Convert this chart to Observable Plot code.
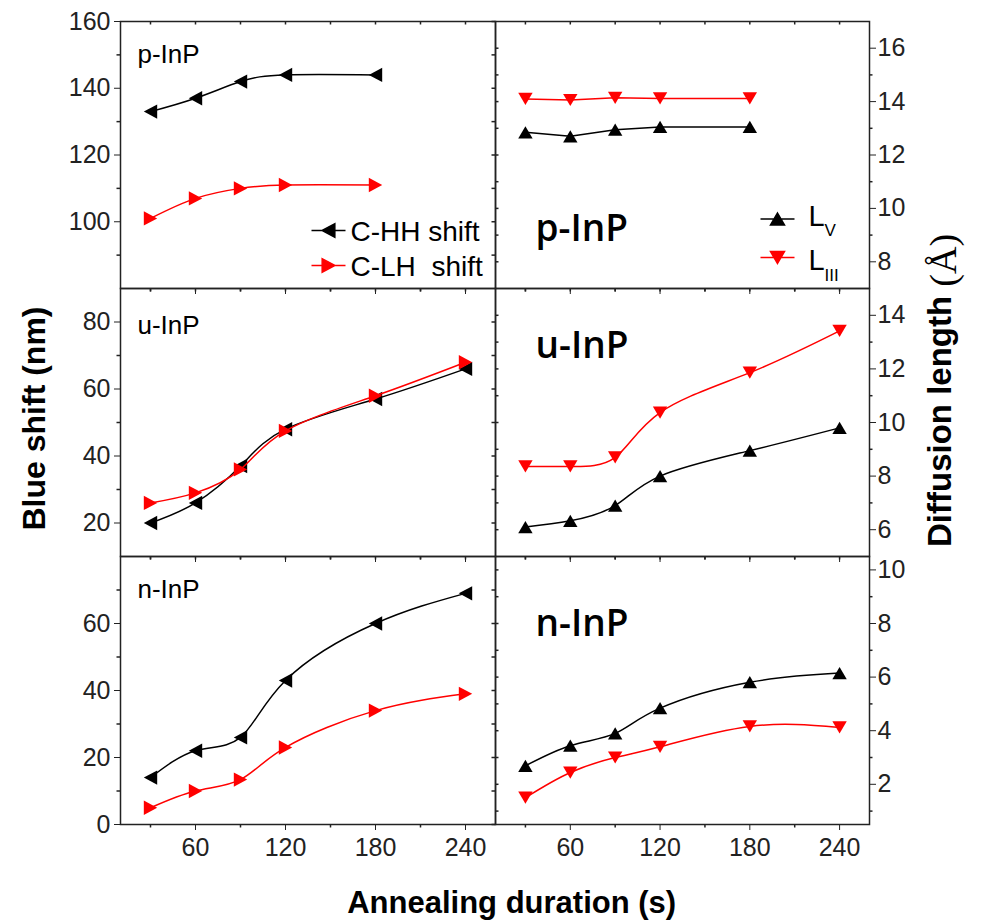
<!DOCTYPE html>
<html><head><meta charset="utf-8">
<script src="https://cdn.jsdelivr.net/npm/d3@7"></script>
<script src="https://cdn.jsdelivr.net/npm/@observablehq/plot@0.6"></script>
<style>
html,body{margin:0;padding:0;background:#fff;}
#chart{position:relative;width:981px;height:921px;overflow:hidden;}
#chart svg{position:absolute;left:0;top:0;background:transparent !important;overflow:visible;max-width:none !important;}
#chart svg.panel line{stroke-width:1.5px;}
#chart text{white-space:pre;}
</style></head><body><div id="chart"></div>
<script>
// ---- data ----
const durations = [30, 60, 90, 120, 180, 240];
const xMajorTicks = [60, 120, 180, 240];
const xMinorTicks = [30, 90, 150, 210];

const pInP_CHH = [133, 137, 142, 144, 144];
const pInP_CLH = [101, 107, 110, 111, 111];
const uInP_CHH = [20, 26, 37, 48, 57, 66];
const uInP_CLH = [26, 29, 36, 47.5, 58, 68];
const nInP_CHH = [14, 22, 26, 43, 60, 69];
const nInP_CLH = [5, 10, 13.4, 23, 34, 39];

const pInP_LV = [12.85, 12.7, 12.95, 13.05, 13.05];
const pInP_LIII = [14.1, 14.06, 14.14, 14.12, 14.12];
const uInP_LV = [6.1, 6.33, 6.9, 8.0, 8.95, 9.8];
const uInP_LIII = [8.36, 8.36, 8.7, 10.37, 11.86, 13.42];
const nInP_LV = [2.69, 3.44, 3.9, 4.84, 5.81, 6.15];
const nInP_LIII = [1.5, 2.44, 3.0, 3.4, 4.16, 4.12];

const sampleLabels = ["p-InP", "u-InP", "n-InP"];
const legendLeft = ["C-HH shift", "C-LH  shift"];
const legendRight = ["L", "L"];
const legendRightSub = ["V", "III"];

const yLeftDomains = [[80, 160], [10, 90], [0, 80]];
const yLeftMajor = [[100, 120, 140, 160], [20, 40, 60, 80], [0, 20, 40, 60]];
const yLeftMinor = [[90, 110, 130, 150], [30, 50, 70], [10, 30, 50, 70]];
const yRightDomains = [[7, 17], [5, 15], [0.5, 10.5]];
const yRightMajor = [[8, 10, 12, 14, 16], [6, 8, 10, 12, 14], [2, 4, 6, 8, 10]];
const yRightMinor = [[9, 11, 13, 15], [7, 9, 11, 13], [1, 3, 5, 7, 9]];

// ---- symbols ----
const triUp = {draw(c, s) { const r = Math.sqrt(s / Math.PI); c.moveTo(0, -0.85 * r); c.lineTo(r, 0.85 * r); c.lineTo(-r, 0.85 * r); c.closePath(); }};
const triDown = {draw(c, s) { const r = Math.sqrt(s / Math.PI); c.moveTo(0, 0.85 * r); c.lineTo(r, -0.85 * r); c.lineTo(-r, -0.85 * r); c.closePath(); }};
const triLeft = {draw(c, s) { const r = Math.sqrt(s / Math.PI); c.moveTo(-0.93 * r, 0); c.lineTo(0.93 * r, -r); c.lineTo(0.93 * r, r); c.closePath(); }};
const triRight = {draw(c, s) { const r = Math.sqrt(s / Math.PI); c.moveTo(0.93 * r, 0); c.lineTo(-0.93 * r, -r); c.lineTo(-0.93 * r, r); c.closePath(); }};
function withLine(sym) {
  return {draw(c, s) { sym.draw(c, s); c.moveTo(-17, 0); c.lineTo(17, 0); }};
}

const BLACK = "#000000", RED = "#ff0000";
const colX = [[120, 495], [495, 869]];
const rowY = [[21, 288], [288, 556], [556, 824]];
const W = 981, H = 921;
const XD = [10, 260];

function pts(vals) { return vals.map((v, i) => ({x: durations[i], y: v})); }

const leftSeries = [[pInP_CHH, pInP_CLH], [uInP_CHH, uInP_CLH], [nInP_CHH, nInP_CLH]];
const rightSeries = [[pInP_LV, pInP_LIII], [uInP_LV, uInP_LIII], [nInP_LV, nInP_LIII]];
const leftLabelDy = [41, 45, 41];
const rightLabelDy = [219, 69, 79];

const chart = document.getElementById("chart");
const axisFont = "'Liberation Sans', Arial, Helvetica, sans-serif";

for (let row = 0; row < 3; row++) {
  for (let col = 0; col < 2; col++) {
    const [x0, x1] = colX[col];
    const [y0, y1] = rowY[row];
    const yd = col === 0 ? yLeftDomains[row] : yRightDomains[row];
    const yMaj = col === 0 ? yLeftMajor[row] : yRightMajor[row];
    const yMin = col === 0 ? yLeftMinor[row] : yRightMinor[row];
    const yAll = yMaj.concat(yMin);
    const xAll = xMajorTicks.concat(xMinorTicks);
    const series = col === 0 ? leftSeries[row] : rightSeries[row];
    const syms = col === 0 ? [triLeft, triRight] : [triUp, triDown];
    const curve = (row === 0 && col === 1) ? "linear" : "natural";

    const marks = [];
    series.forEach((vals, k) => {
      const color = k === 0 ? BLACK : RED;
      const data = pts(vals);
      marks.push(Plot.line(data, {x: "x", y: "y", stroke: color, strokeWidth: 1.5, curve}));
      marks.push(Plot.dot(data, {x: "x", y: "y", symbol: syms[k], r: 7.2, fill: color, stroke: "none"}));
    });
    if (col === 0) {
      marks.push(Plot.ruleY(yMin, {x1: XD[0], x2: XD[0], insetLeft: -3.5, stroke: "#222"}));
      marks.push(Plot.ruleY(yAll, {x1: XD[1], x2: XD[1], insetRight: 3.5, stroke: "#222"}));
    } else {
      marks.push(Plot.ruleY(yMin, {x1: XD[1], x2: XD[1], insetRight: -3.5, stroke: "#222"}));
      marks.push(Plot.ruleY(yAll, {x1: XD[0], x2: XD[0], insetLeft: 3.5, stroke: "#222"}));
    }
    marks.push(Plot.ruleX(xMinorTicks, {y1: yd[0], y2: yd[0], insetTop: 3.5, stroke: "#222"}));
    marks.push(Plot.ruleX(xAll, {y1: yd[1], y2: yd[1], insetBottom: -3.5, stroke: "#222"}));
    marks.push(Plot.frame({stroke: "#222", strokeWidth: 1.5}));

    if (col === 0) {
      marks.push(Plot.text([sampleLabels[row]], {text: d => d, frameAnchor: "top-left", dx: 17, dy: leftLabelDy[row],
        textAnchor: "start", lineAnchor: "bottom", fontSize: 26, fontFamily: axisFont, fill: BLACK}));
    } else {
      marks.push(Plot.text([sampleLabels[row]], {text: d => d, frameAnchor: "top-left", dx: 40, dy: rightLabelDy[row],
        textAnchor: "start", lineAnchor: "bottom", fontSize: 37, fontFamily: "'Open Sans', 'Noto Sans', sans-serif", fontWeight: 600, fill: BLACK}));
    }

    if (row === 0 && col === 0) {
      legendLeft.forEach((t, k) => {
        const color = k === 0 ? BLACK : RED;
        marks.push(Plot.dot([t], {frameAnchor: "top-left", dx: 208, dy: 209 + 35 * k, symbol: withLine(k === 0 ? triLeft : triRight),
          r: 6.8, fill: color, stroke: color, strokeWidth: 1.5}));
        marks.push(Plot.text([t], {text: d => d, frameAnchor: "top-left", dx: 230, dy: 219 + 35 * k, textAnchor: "start",
          lineAnchor: "bottom", fontSize: 28, fontFamily: axisFont, fill: BLACK}));
      });
    }
    if (row === 0 && col === 1) {
      legendRight.forEach((t, k) => {
        const color = k === 0 ? BLACK : RED;
        marks.push(Plot.dot([t], {frameAnchor: "top-left", dx: 282, dy: 197.5 + 38.5 * k, symbol: withLine(k === 0 ? triUp : triDown),
          r: 7, fill: color, stroke: color, strokeWidth: 1.5}));
        marks.push(Plot.text([t], {text: d => d, frameAnchor: "top-left", dx: 313, dy: 204.5 + 44 * k, textAnchor: "start",
          lineAnchor: "bottom", fontSize: 29, fontFamily: axisFont, fill: BLACK}));
        marks.push(Plot.text([legendRightSub[k]], {text: d => d, frameAnchor: "top-left", dx: 329, dy: 214.5 + 44.5 * k, textAnchor: "start",
          lineAnchor: "bottom", fontSize: 17, fontFamily: axisFont, fill: BLACK}));
      });
    }

    const svg = Plot.plot({
      width: W, height: H,
      marginLeft: x0, marginRight: W - x1, marginTop: y0, marginBottom: H - y1,
      x: {domain: XD, ticks: xMajorTicks, tickSize: 6, tickPadding: 8, label: null,
          tickFormat: row === 2 ? (d => String(d)) : (() => "")},
      y: {domain: yd, ticks: yMaj, tickSize: 6, tickPadding: col === 0 ? 4 : 2, label: null,
          axis: col === 0 ? "left" : "right", tickFormat: d => String(d)},
      style: {background: "transparent", color: "#222", fontSize: "25px", fontFamily: axisFont, overflow: "visible"},
      marks
    });
    svg.classList.add("panel");
    chart.appendChild(svg);
  }
}

// ---- axis titles ----
const ov = d3.select(chart).append("svg").attr("width", W).attr("height", H).attr("viewBox", `0 0 ${W} ${H}`);
ov.append("text").attr("transform", "translate(44.5,418.5) rotate(-90)")
  .attr("text-anchor", "middle").attr("font-family", axisFont).attr("font-weight", "bold").attr("font-size", 32)
  .attr("fill", "#000").text("Blue shift (nm)");
ov.append("text").attr("x", 511.7).attr("y", 913)
  .attr("text-anchor", "middle").attr("font-family", axisFont).attr("font-weight", "bold").attr("font-size", 31)
  .attr("fill", "#000").text("Annealing duration (s)");
const rt = ov.append("text").attr("transform", "translate(951,547) rotate(-90)")
  .attr("text-anchor", "start").attr("fill", "#000");
rt.append("tspan").attr("font-family", axisFont).attr("font-weight", "bold").attr("font-size", 33).text("Diffusion length ");
rt.append("tspan").attr("font-family", "'Liberation Serif', 'Times New Roman', serif").attr("font-size", 38).attr("dy", 5).text("(Å)");
</script>
</body></html>
